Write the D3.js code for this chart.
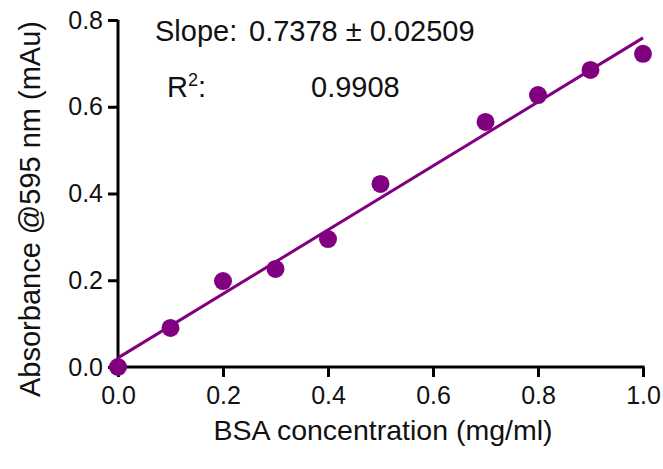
<!DOCTYPE html>
<html>
<head>
<meta charset="utf-8">
<script src="https://cdn.jsdelivr.net/npm/d3@7"></script>
<style>
    html, body { margin: 0; padding: 0; background: #fff; }
    svg { display: block; }
    svg text { font-family: "Liberation Sans", Arial, sans-serif; }
</style>
</head>
<body>
<div id="chart"></div>
<script>
// BSA standard curve (Bradford)
const concentrations = [0.0, 0.1, 0.2, 0.3, 0.4, 0.5, 0.7, 0.8, 0.9, 1.0];
const absorbance = [0.0, 0.090, 0.198, 0.226, 0.295, 0.422, 0.565, 0.627, 0.685, 0.722];
const xTicks = [0.0, 0.2, 0.4, 0.6, 0.8, 1.0];
const yTicks = [0.0, 0.2, 0.4, 0.6, 0.8];
const fitSlope = 0.7378;
const fitIntercept = 0.021;
const fitRange = [0.0, 1.0];

const PURPLE = '#800080';
const width = 663;
const height = 469;
const margin = { left: 118, right: 20, top: 20, bottom: 102 };

const svg = d3.select('#chart')
    .append('svg')
    .attr('width', width)
    .attr('height', height);

const x = d3.scaleLinear().domain([0, 1]).range([margin.left, width - margin.right]);
const y = d3.scaleLinear().domain([0, 0.8]).range([height - margin.bottom, margin.top]);

// axes
const xAxis = svg.append('g')
    .attr('transform', `translate(0,${y(0)})`)
    .call(d3.axisBottom(x)
        .tickValues(xTicks)
        .tickFormat(d3.format('.1f'))
        .tickSize(10)
        .tickSizeOuter(0)
        .tickPadding(9));

const yAxis = svg.append('g')
    .attr('transform', `translate(${x(0)},0)`)
    .call(d3.axisLeft(y)
        .tickValues(yTicks)
        .tickFormat(d3.format('.1f'))
        .tickSize(10)
        .tickSizeOuter(0)
        .tickPadding(5));

[xAxis, yAxis].forEach(g => {
    g.attr('font-family', null).attr('font-size', null);
    g.selectAll('path, line').attr('stroke', '#000').attr('stroke-width', 3);
    g.selectAll('text')
        .attr('fill', '#111')
        .style('font-size', '25px');
});
xAxis.select('.domain').attr('d', `M${x(0) - 1.5},0H${x(1) + 1.5}`);
yAxis.select('.domain').attr('d', `M0,${y(0) + 1.5}V${y(0.8)}`);

// fit line
svg.append('line')
    .attr('x1', x(fitRange[0]))
    .attr('y1', y(fitIntercept + fitSlope * fitRange[0]))
    .attr('x2', x(fitRange[1]))
    .attr('y2', y(fitIntercept + fitSlope * fitRange[1]))
    .attr('stroke', PURPLE)
    .attr('stroke-width', 3);

// points
svg.append('g')
    .selectAll('circle')
    .data(concentrations)
    .join('circle')
    .attr('cx', d => x(d))
    .attr('cy', (d, i) => y(absorbance[i]))
    .attr('r', 9)
    .attr('fill', PURPLE);

// axis titles
svg.append('text')
    .attr('x', 383)
    .attr('y', 440)
    .attr('text-anchor', 'middle')
    .style('font-size', '28.5px')
    .attr('fill', '#111')
    .text('BSA concentration (mg/ml)');

svg.append('text')
    .attr('transform', 'translate(40,209) rotate(-90)')
    .attr('text-anchor', 'middle')
    .style('font-size', '29px')
    .attr('fill', '#111')
    .text('Absorbance @595 nm (mAu)');

// fit statistics
const stats = svg.append('g').style('font-size', '29px').attr('fill', '#111');
stats.append('text').attr('x', 155).attr('y', 41).text('Slope:');
stats.append('text').attr('x', 249).attr('y', 41).text('0.7378 \u00b1 0.02509');
const r2 = stats.append('text').attr('x', 167).attr('y', 97);
r2.append('tspan').text('R');
r2.append('tspan').attr('dy', -11).style('font-size', '18px').text('2');
r2.append('tspan').attr('dy', 11).text(':');
stats.append('text').attr('x', 311).attr('y', 97).text('0.9908');
</script>
</body>
</html>
